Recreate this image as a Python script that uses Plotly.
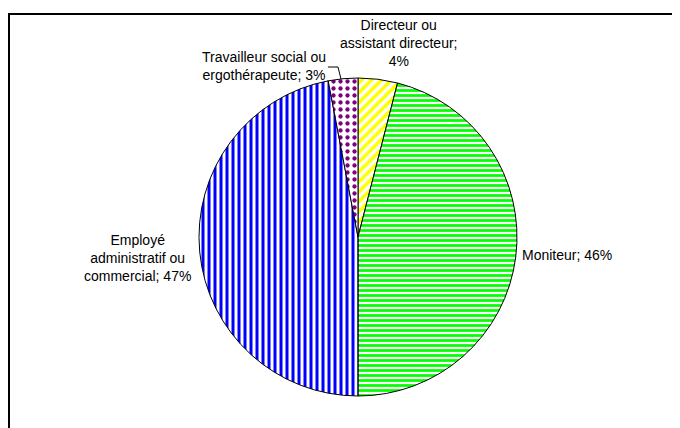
import plotly.graph_objects as go

W, H = 680, 428
OFF = 8  # page body margin shifts the figure by 8 px

# slices, clockwise from 12 o'clock
labels = ["Directeur ou assistant directeur", "Moniteur",
          "Employé administratif ou commercial", "Travailleur social ou ergothérapeute"]
values = [4, 46, 47, 3]
label_text = ["Directeur ou<br>assistant directeur;<br>4%", "Moniteur; 46%",
              "Employé<br>administratif ou<br>commercial; 47%",
              "Travailleur social ou<br>ergothérapeute; 3%"]
colors = ["#ffff00", "#00ff00", "#0000ff", "#800080"]
shapes_pat = ["/", "-", "|", "."]
pat_size = [7, 5, 6, 7]
pat_solid = [0.5, 0.55, 0.5, 0.3]

def px(x):
    return (x - OFF) / W

def py(y):
    return 1 - (y - OFF) / H

# pie centre ~ (358, 237), radius ~159 px (screen coords)
cx, cy, r = 358, 237, 159

fig = go.Figure()
fig.add_trace(go.Pie(
    labels=labels,
    values=values,
    sort=False,
    direction="clockwise",
    rotation=0,
    textinfo="none",
    hoverinfo="label+percent",
    marker=dict(
        colors=["white"] * 4,
        line=dict(color="black", width=1),
        pattern=dict(shape=shapes_pat, fgcolor=colors, bgcolor="white", fgopacity=1,
                     size=pat_size, solidity=pat_solid, fillmode="replace"),
    ),
    domain=dict(x=[px(cx - r), px(cx + r)], y=[py(cy + r), py(cy - r)]),
    showlegend=False,
))

# label placements (screen pixel centres)
label_pos = [(399, 43, "center"), (520, 255, "left"), (137, 258, "center"), (264, 66, "center")]
for txt, (x, y, anchor) in zip(label_text, label_pos):
    fig.add_annotation(x=px(x), y=py(y), xref="paper", yref="paper", text=txt,
                       showarrow=False, xanchor=anchor, yanchor="middle", align="center",
                       font=dict(family="Liberation Sans, Arial, sans-serif", size=14, color="black"))

fig.update_layout(
    width=W, height=H,
    margin=dict(l=0, r=0, t=0, b=0),
    paper_bgcolor="white",
    plot_bgcolor="white",
    shapes=[
        # chart frame
        dict(type="rect", xref="paper", yref="paper", x0=px(9), x1=1.05, y0=-0.05, y1=py(14),
             line=dict(color="black", width=2), fillcolor="rgba(0,0,0,0)"),
        # leader line for the small slice
        dict(type="path", xref="paper", yref="paper",
             path=f"M {px(328)} {py(67)} L {px(338)} {py(67)} L {px(341)} {py(79)}",
             line=dict(color="black", width=1)),
    ],
)

fig.write_html("out.html")
